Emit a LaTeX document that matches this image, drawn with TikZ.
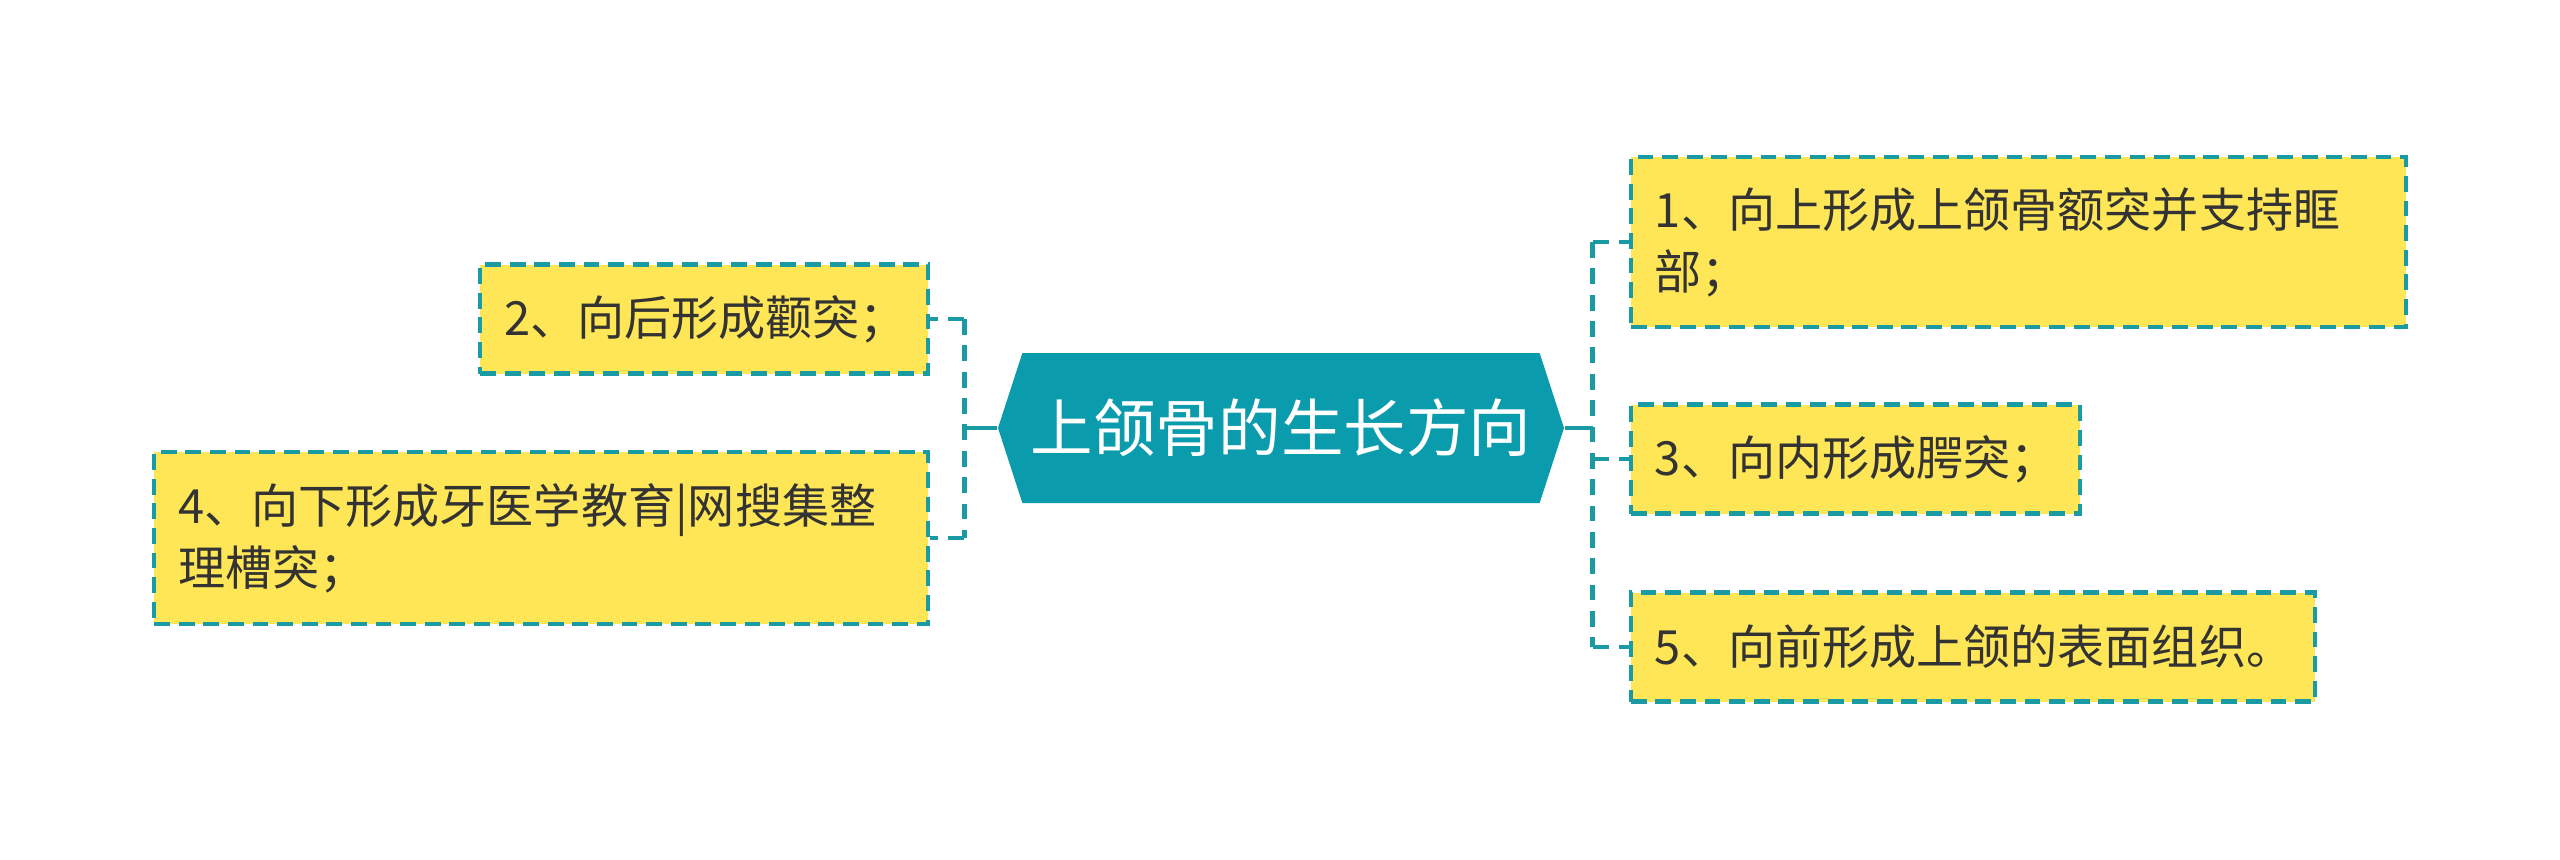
\documentclass[tikz,border=0pt]{standalone}
\usepackage{fontspec}
\setmainfont{Noto Sans CJK SC}
\usetikzlibrary{positioning,shapes.symbols}
\definecolor{hubteal}{HTML}{0A9BAC}
\definecolor{lineteal}{HTML}{1A9AA2}
\definecolor{leafyellow}{HTML}{FFE657}
\definecolor{leaftext}{HTML}{333333}

\begin{document}
\begin{tikzpicture}[
    hub/.style={shape=signal, signal to=east and west, signal pointer angle=144,
      fill=hubteal, text=white, minimum width=5.66cm, minimum height=1.5cm,
      inner sep=0pt, font=\fontsize{17.8}{20}\selectfont},
    leaf/.style={fill=leafyellow, draw=lineteal, line width=1.2pt,
      dash pattern=on 4.5pt off 2.5pt, text=leaftext, align=left,
      inner xsep=0.24cm, inner ysep=0pt, minimum height=1.09cm,
      font=\fontsize{13.4}{17.6}\selectfont},
    link/.style={draw=lineteal, line width=1.4pt},
    dlink/.style={link, dash pattern=on 4.5pt off 3pt},
  ]
  \useasboundingbox (0,0) rectangle (25.6,8.59);
  \node [hub] (hub) at (12.81,4.31) {上颌骨的生长方向};

  \node [leaf, text width=7.27cm, minimum height=1.70cm, right=0.64cm of hub, yshift=1.86cm] (up) {1、向上形成上颌骨额突并支持眶\\部；};
  \node [leaf, text width=4.01cm, right=0.64cm of hub, yshift=-0.31cm] (inner) {3、向内形成腭突；};
  \node [leaf, text width=6.36cm, right=0.64cm of hub, yshift=-2.19cm] (front) {5、向前形成上颌的表面组织。};
  \node [leaf, text width=4.00cm, left=0.67cm of hub, yshift=1.09cm] (back) {2、向后形成颧突；};
  \node [leaf, text width=7.26cm, minimum height=1.72cm, left=0.67cm of hub, yshift=-1.10cm] (down) {4、向下形成牙医学教育|网搜集整\\理槽突；};

  \draw [link] (hub.east) -- ++(0.28,0) coordinate (rjoin);
  \draw [dlink] (rjoin |- up.west) -- (rjoin |- front.west);
  \foreach \n in {up,inner,front}
    \draw [dlink] (rjoin |- \n.west) -- (\n.west);

  \draw [link] (hub.west) -- ++(-0.33,0) coordinate (ljoin);
  \draw [dlink] (ljoin |- back.east) -- (ljoin |- down.east);
  \foreach \n in {back,down}
    \draw [dlink] (ljoin |- \n.east) -- (\n.east);
\end{tikzpicture}
\end{document}
